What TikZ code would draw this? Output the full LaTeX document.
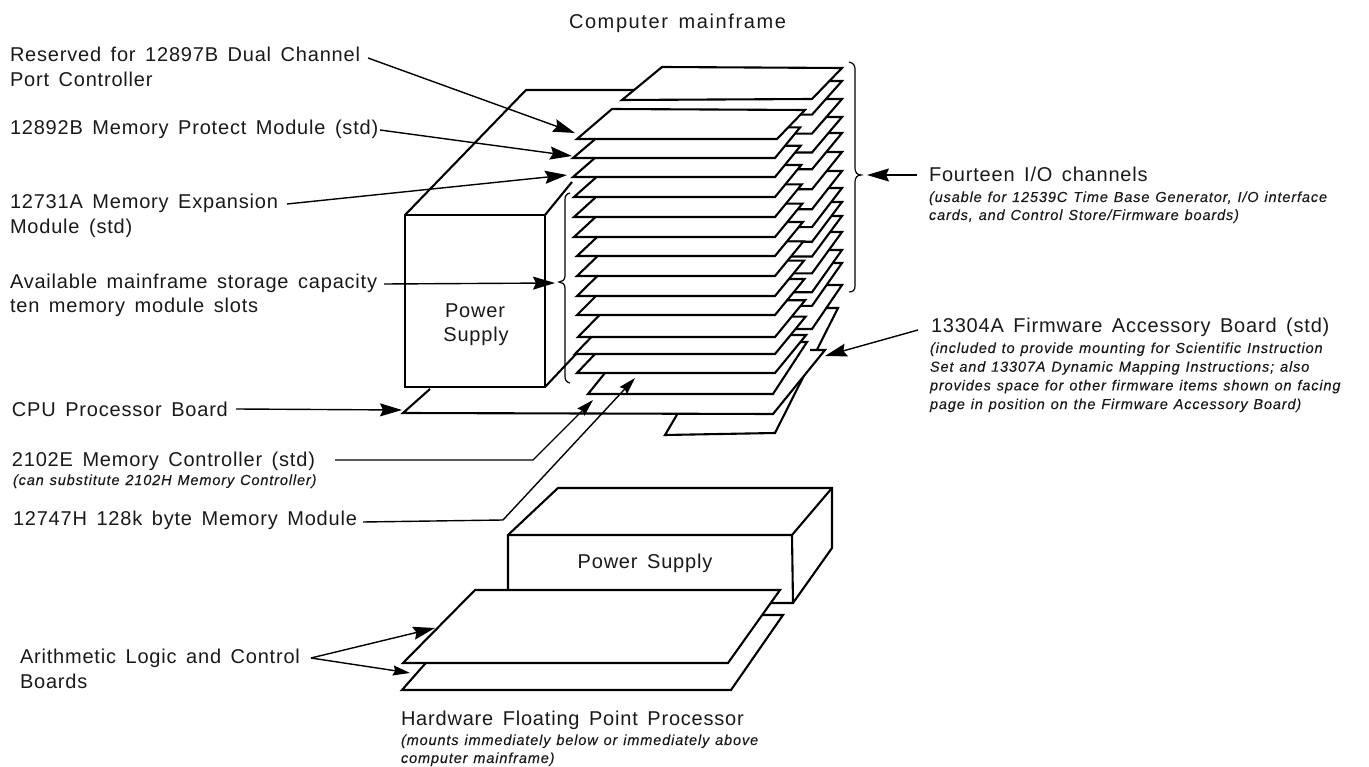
\documentclass[tikz,border=0pt]{standalone}
\usepackage{fontspec}
\setmainfont{Liberation Sans}
\newfontfamily\mainface[LetterSpace=4,WordSpace=1.5]{Liberation Sans}
\newfontfamily\titleface[LetterSpace=8,WordSpace=1.5]{Liberation Sans}
\newfontfamily\smallface[UprightFont=* Italic,LetterSpace=6,WordSpace=1.2,FakeBold=0.2]{Liberation Sans}
\usetikzlibrary{arrows.meta}
\newcommand{\mainsz}{\fontsize{20}{24}\mainface}
\newcommand{\itsz}{\fontsize{14.5}{17}\smallface}
\tikzset{
  lab/.style={anchor=base west,inner sep=0pt,outer sep=0pt,font=\mainsz,text=black!90},
  note/.style={anchor=base west,inner sep=0pt,outer sep=0pt,font=\itsz,text=black!90},
  ctr/.style={anchor=base,inner sep=0pt,outer sep=0pt,font=\mainsz,text=black!90},
  board/.style={draw=black,fill=white,line width=2.1pt,line join=miter},
  outline/.style={draw=black,line width=2.1pt,line join=miter},
  leader/.style={draw=black,line width=1.4pt,-{Stealth[length=22pt,width=13pt,inset=3pt]}},
  sleader/.style={draw=black,line width=1.4pt,-{Stealth[length=17pt,width=10pt,inset=2pt]}},
  bracel/.style={draw=black,line width=1.2pt}
}
\begin{document}
\begin{tikzpicture}[x=1pt,y=-1pt]
\useasboundingbox (0,0) rectangle (1369,767);
% firmware accessory board
\draw[board] (665,435) -- (775,433) -- (838,308) -- (740,308) -- cycle;
% CPU board: back edge is hidden
\fill[white] (403,413) -- (773,414) -- (825,350) -- (474,350) -- cycle;
\draw[outline] (430,389) -- (403,413) -- (773,414) -- (825,350) -- (810,350);
% mainframe power supply
\draw[board] (405,215) rectangle (545,387);
\draw[outline] (405,215) -- (526,90) -- (640,90);
\draw[outline] (545,215) -- (572,182);
\draw[outline] (545,387) -- (577,353);
\draw[bracel] (570,193) .. controls (566,194) and (565,196) .. (565,200) -- (565,276) .. controls (565,280) and (562,282) .. (559,282) .. controls (562,282) and (565,284) .. (565,288) -- (565,376) .. controls (565,380) and (566,382) .. (570,383);
% I/O channel boards, lowest first
\foreach \yt in {285,263,250,232,216,202,188,171,152,133,117,99,81}{
  \pgfmathsetmacro{\yf}{\yt+33+(\yt-68)/217*11}
  \draw[board] (770,\yf) -- (812,\yf) -- (842,\yt) -- (800,\yt);
}
\draw[board] (622,100) -- (812,99) -- (842,68) -- (662,67) -- cycle;
% memory slots, lowest first
\draw[board] (588,394) -- (773,394) -- (807,342) -- (630,342) -- cycle;
\foreach \yy/\xl in {373/577,354/575,337/578,315/577,296/577,276/577,256/577,237/574,217/574,197/574,177/573,158/573}{
  \pgfmathsetmacro{\dy}{30+(\yy-139)/235*8}
  \pgfmathsetmacro{\dx}{\dy*0.82}
  \draw[board] (\xl,\yy) -- (775,\yy) -- ({775+\dx},{\yy-\dy}) -- ({\xl+36},{\yy-\dy}) -- cycle;
}
\draw[board] (577,139) -- (777,139) -- (805,110) -- (612,109) -- cycle;
% right brace
\draw[bracel] (849,62) .. controls (853,63) and (855,65) .. (855,69) -- (855,168) .. controls (855,172) and (857,175) .. (861,175) .. controls (857,175) and (855,178) .. (855,182) -- (855,286) .. controls (855,290) and (853,292) .. (849,292);
% floating point power supply
\draw[board] (508,535) -- (558,488) -- (832,488) -- (832,548) -- (793,603) -- (772,603) -- (508,603) -- cycle;
\draw[outline] (508,535) -- (792,535) -- (832,488);
\draw[outline] (792,535) -- (793,603);
\draw[board] (402,690) -- (731,690) -- (783,615) -- (468,615) -- cycle;
\draw[board] (403,663) -- (728,663) -- (780,590) -- (475,590) -- cycle;
% text
\node[lab,font=\fontsize{20}{24}\titleface] (title) at (569,29) {Computer mainframe};
\node[lab] (reserved) at (10,62) {\vtop{\baselineskip=25pt\hbox{Reserved for 12897B Dual Channel}\hbox{Port Controller}}};
\node[lab] (protect) at (10,135) {12892B Memory Protect Module (std)};
\node[lab] (expansion) at (10,209) {\vtop{\baselineskip=25pt\hbox{12731A Memory Expansion}\hbox{Module (std)}}};
\node[lab] (storage) at (10,289) {\vtop{\baselineskip=24pt\hbox{Available mainframe storage capacity}\hbox{ten memory module slots}}};
\node[lab] (cpu) at (12,417) {CPU Processor Board};
\node[lab] (ctrl) at (12,466) {2102E Memory Controller (std)};
\node[note] (ctrlnote) at (13,485) {(can substitute 2102H Memory Controller)};
\node[lab] (module) at (13,525) {12747H 128k byte Memory Module};
\node[lab] (alu) at (20,663) {\vtop{\baselineskip=25pt\hbox{Arithmetic Logic and Control}\hbox{Boards}}};
\node[lab] (hfpp) at (401,725) {Hardware Floating Point Processor};
\node[note] (hfppnote) at (401,745) {\vtop{\baselineskip=18pt\hbox{(mounts immediately below or immediately above}\hbox{computer mainframe)}}};
\node[lab] (io) at (929,182) {Fourteen I/O channels};
\node[note] (ionote) at (929,202) {\vtop{\baselineskip=18pt\hbox{(usable for 12539C Time Base Generator, I/O interface}\hbox{cards, and Control Store/Firmware boards)}}};
\node[lab] (fw) at (931,333) {13304A Firmware Accessory Board (std)};
\node[note] (fwnote) at (930,353) {\vtop{\baselineskip=18.7pt\hbox{(included to provide mounting for Scientific Instruction}\hbox{Set and 13307A Dynamic Mapping Instructions; also}\hbox{provides space for other firmware items shown on facing}\hbox{page in position on the Firmware Accessory Board)}}};
\node[ctr] (ps1a) at (475,318) {Power};
\node[ctr] (ps1b) at (476,342) {Supply};
\node[ctr] (ps2) at (645,568) {Power Supply};
% connector ends
\coordinate (s1) at (368,58);  \coordinate (t1) at (575,133);
\coordinate (s2) at (380,130); \coordinate (t2) at (572,156);
\coordinate (s3) at (287,204); \coordinate (t3) at (567,175);
\coordinate (s4) at (384,284); \coordinate (t4) at (555,283);
\coordinate (s5) at (236,409); \coordinate (t5) at (402,410);
\coordinate (s6) at (335,460); \coordinate (b6) at (533,460); \coordinate (t6) at (593,400);
\coordinate (s7) at (363,522); \coordinate (b7) at (503,520); \coordinate (t7) at (635,378);
\coordinate (s8) at (917,175); \coordinate (t8) at (867,175);
\coordinate (s9) at (918,330); \coordinate (t9) at (825,356);
\coordinate (s10) at (311,658); \coordinate (t10a) at (435,628); \coordinate (t10b) at (410,673);
\draw[leader] (s1) -- (t1);
\draw[leader] (s2) -- (t2);
\draw[leader] (s3) -- (t3);
\draw[leader] (s4) -- (t4);
\draw[leader] (s5) -- (t5);
\draw[sleader] (s6) -- (b6) -- (t6);
\draw[sleader] (s7) -- (b7) -- (t7);
\draw[leader] (s8) -- (t8);
\draw[leader] (s9) -- (t9);
\draw[leader] (s10) -- (t10a);
\draw[sleader] (s10) -- (t10b);
\end{tikzpicture}
\end{document}
